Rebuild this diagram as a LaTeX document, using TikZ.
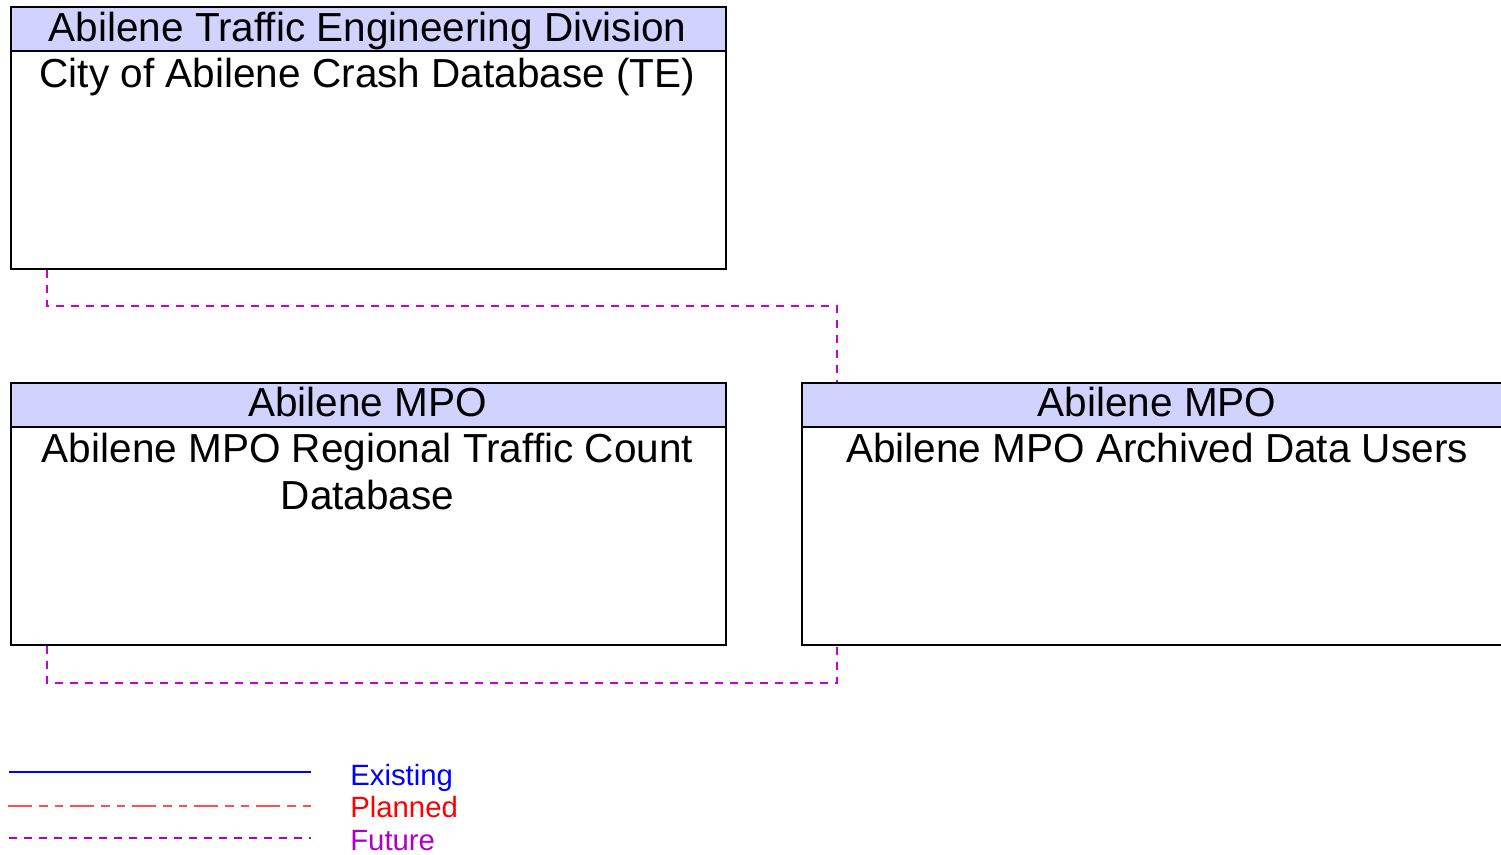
\documentclass[tikz,border=0pt]{standalone}
\usepackage{fontspec}
\setmainfont{Liberation Sans}
\usetikzlibrary{calc}
\definecolor{hdr}{RGB}{210,210,255}
\definecolor{futc}{RGB}{204,0,204}
\definecolor{futl}{RGB}{176,0,200}
\definecolor{plc}{RGB}{255,0,0}
\definecolor{plline}{RGB}{255,80,80}
\definecolor{exc}{RGB}{0,0,255}
\tikzset{
  box/.style={draw=black, line width=1.5pt, fill=white, anchor=north west, inner sep=0pt, minimum width=536.25pt, minimum height=196.5pt},
  hdrbox/.style={draw=black, line width=1.5pt, fill=hdr, anchor=north west, inner sep=0pt, minimum width=536.25pt, minimum height=33pt},
  big/.style={font=\fontsize{30.4}{35}\selectfont, align=center, inner sep=0pt, anchor=base},
  future/.style={draw=futc, line width=1.2pt, dash pattern=on 6pt off 5.25pt},
  legtext/.style={font=\fontsize{22}{26}\selectfont, anchor=base west, inner sep=0pt},
}
\begin{document}
\begin{tikzpicture}[x=0.75pt, y=-0.75pt]
\clip (0,0) rectangle (1501,855);
\fill[white] (0,0) rectangle (1501,855);
% boxes
\node[box] (b1) at (10,6) {};
\node[hdrbox] (h1) at (10,6) {};
\node[big] (h1t) at (367.5,42) {Abilene Traffic Engineering Division};
\node[big] (b1t) at (367.5,88) {City of Abilene Crash Database (TE)};

\node[box] (b2) at (10,382) {};
\node[hdrbox] (h2) at (10,382) {};
\node[big] (h2t) at (367.5,416) {Abilene MPO};
\node[big] (b2t) at (367.5,462) {Abilene MPO Regional Traffic Count};
\node[big] (b2u) at (367.5,509) {Database};

\node[box] (b3) at (801,382) {};
\node[hdrbox] (h3) at (801,382) {};
\node[big] (h3t) at (1157,416) {Abilene MPO};
\node[big] (b3t) at (1157,462) {Abilene MPO Archived Data Users};

% connectors
\draw[future] ($(b1.south west)+(37,0)$) -- ++(0,36) -| ($(b3.north west)+(36,0)$);
\draw[future] ($(b2.south west)+(37,0)$) -- ++(0,37) -| ($(b3.south west)+(36,0)$);

% legend
\coordinate (e1) at (9,772); \coordinate (e2) at (311,772);
\coordinate (p1) at (8,806); \coordinate (p2) at (311,806);
\coordinate (f1) at (9,838); \coordinate (f2) at (311,838);
\draw[exc, line width=2pt] (e1) -- (e2);
\draw[plline, line width=1.5pt, dash pattern=on 18pt off 5.25pt on 6.4pt off 5.25pt on 6.4pt off 5.25pt] (p1) -- (p2);
\draw[futl, line width=1.3pt, dash pattern=on 6pt off 5.25pt] (f1) -- (f2);
\node[legtext, text=exc] (le) at (350,785) {Existing};
\node[legtext, text=plc] (lp) at (350,817) {Planned};
\node[legtext, text=futl] (lf) at (350,850) {Future};
\end{tikzpicture}
\end{document}
